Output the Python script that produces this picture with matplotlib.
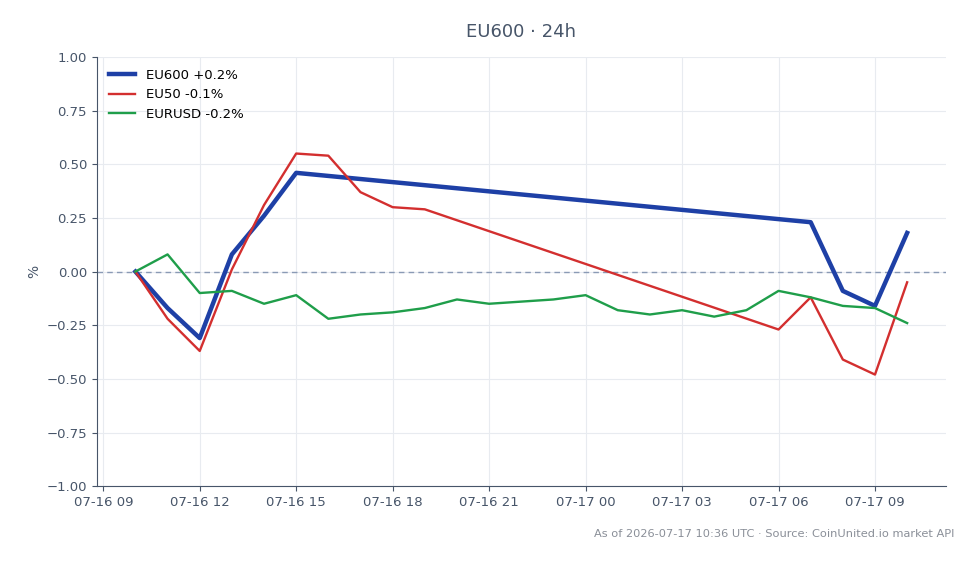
import numpy as np
import pandas as pd
import matplotlib
matplotlib.use("Agg")
import matplotlib.pyplot as plt
import matplotlib.dates as mdates

# hourly stamps, 07-16 10:00 .. 07-17 10:00
hours = pd.date_range("2026-07-16 10:00", "2026-07-17 10:00", freq="h")

nan = np.nan
eu600 = [0.00, -0.17, -0.31, 0.08, 0.26, 0.46,
         nan, nan, nan, nan, nan, nan, nan, nan, nan, nan, nan, nan, nan, nan, nan,
         0.23, -0.09, -0.16, 0.18]
eu50 = [0.00, -0.22, -0.37, 0.01, 0.31, 0.55, 0.54, 0.37, 0.30, 0.29,
        nan, nan, nan, nan, nan, nan, nan, nan, nan, nan,
        -0.27, -0.12, -0.41, -0.48, -0.05]
eurusd = [0.00, 0.08, -0.10, -0.09, -0.15, -0.11, -0.22, -0.20, -0.19, -0.17,
          -0.13, -0.15, -0.14, -0.13, -0.11, -0.18, -0.20, -0.18, -0.21, -0.18,
          -0.09, -0.12, -0.16, -0.17, -0.24]

labels = ["EU600 +0.2%", "EU50 -0.1%", "EURUSD -0.2%"]
colors = ["#1e40a6", "#d32f2f", "#1f9e4a"]
widths = [3.2, 1.7, 1.7]

slate = "#475569"

fig = plt.figure(figsize=(9.78, 5.64), dpi=100)
ax = fig.add_axes([0.099, 0.138, 0.868, 0.761])

for vals, lab, col, lw in zip([eu600, eu50, eurusd], labels, colors, widths):
    s = pd.Series(vals, index=hours).dropna()
    ax.plot(s.index, s.values, color=col, lw=lw, label=lab, zorder=3)

ax.axhline(0, color="#8a9ab5", lw=1, ls=(0, (4, 3)), zorder=2)

ax.set_ylim(-1, 1)
ax.set_yticks(np.arange(-1, 1.01, 0.25))
ax.yaxis.set_major_formatter(
    matplotlib.ticker.FuncFormatter(lambda v, p: f"{v:.2f}".replace("-", "\u2212")))
ax.xaxis.set_major_locator(mdates.HourLocator(byhour=range(0, 24, 3)))
ax.xaxis.set_major_formatter(mdates.DateFormatter("%m-%d %H"))

ax.grid(True, color="#e8ebf0", lw=0.8, zorder=0)
for sp in ["top", "right"]:
    ax.spines[sp].set_visible(False)
for sp in ["left", "bottom"]:
    ax.spines[sp].set_color(slate)
ax.tick_params(colors=slate, labelsize=9.5)
ax.set_ylabel("%", color=slate, fontsize=10)

leg = ax.legend(loc="upper left", frameon=False, fontsize=9.5)

fig.text(0.533, 0.943, "EU600 · 24h", ha="center", va="center", fontsize=13, color=slate)
fig.text(0.976, 0.053, "As of 2026-07-17 10:36 UTC · Source: CoinUnited.io market API",
         ha="right", va="center", fontsize=8.2, color="#8a8f98")

fig.savefig("out.png", dpi=100)
